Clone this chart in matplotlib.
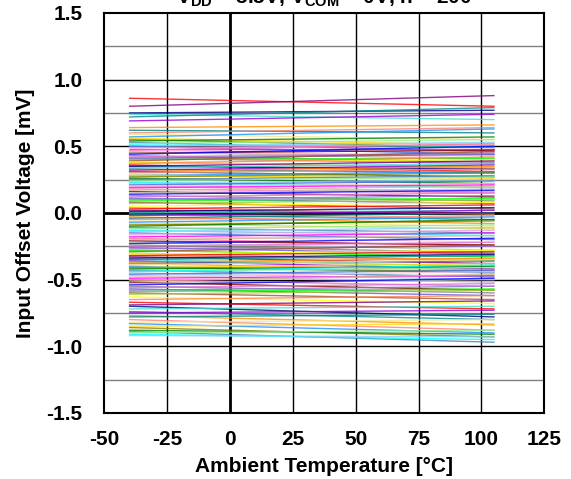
import matplotlib
matplotlib.use("Agg")
import matplotlib.pyplot as plt
import numpy as np

plt.rcParams['font.family'] = ['Liberation Sans', 'DejaVu Sans']
plt.rcParams['font.weight'] = 'bold'
plt.rcParams['axes.unicode_minus'] = False
plt.rcParams['mathtext.fontset'] = 'custom'
plt.rcParams['mathtext.rm'] = 'Liberation Sans:bold'
plt.rcParams['mathtext.it'] = 'Liberation Sans:bold'
plt.rcParams['mathtext.bf'] = 'Liberation Sans:bold'

# temperatures where each unit was measured
temps = [-40, 105]

# offset voltage per unit [mV] at -40 C and at 105 C
vos_top_lo = [0.86, 0.80, 0.75, 0.74, 0.72, 0.69, 0.64, 0.62, 0.60, 0.59, 0.57, 0.56]
vos_top_hi = [0.80, 0.88, 0.77, 0.70, 0.79, 0.74, 0.66, 0.60, 0.64, 0.55, 0.63, 0.51]

vos_upper_lo = [0.55, 0.54, 0.53, 0.52, 0.51, 0.50, 0.50, 0.49, 0.48, 0.48,
                0.47, 0.46, 0.45, 0.45, 0.44, 0.43, 0.42, 0.41, 0.41, 0.40,
                0.39, 0.38, 0.38, 0.37, 0.36, 0.35, 0.35, 0.34, 0.33, 0.32,
                0.31, 0.31, 0.30, 0.29, 0.28, 0.28, 0.27, 0.26, 0.25, 0.24,
                0.23, 0.22, 0.21, 0.20, 0.20, 0.19, 0.18, 0.17, 0.16, 0.15,
                0.14, 0.13, 0.12, 0.11, 0.10]
vos_upper_hi = [0.49, 0.57, 0.46, 0.55, 0.50, 0.53, 0.44, 0.51, 0.41, 0.48,
                0.52, 0.40, 0.47, 0.43, 0.50, 0.38, 0.45, 0.44, 0.37, 0.41,
                0.46, 0.34, 0.40, 0.42, 0.31, 0.39, 0.33, 0.37, 0.30, 0.36,
                0.35, 0.27, 0.33, 0.24, 0.31, 0.26, 0.30, 0.22, 0.28, 0.27,
                0.19, 0.25, 0.24, 0.16, 0.22, 0.21, 0.15, 0.20, 0.12, 0.18,
                0.17, 0.09, 0.15, 0.07, 0.13]

vos_mid_lo = [0.09, 0.08, 0.07, 0.05, 0.04, 0.03, 0.02, 0.01, 0.00, -0.01,
              -0.02, -0.03, -0.04, -0.05, -0.06, -0.07, -0.08, -0.09, -0.10, -0.11,
              -0.12, -0.13, -0.14]
vos_mid_hi = [0.11, 0.03, 0.10, 0.08, -0.01, 0.06, 0.00, 0.04, 0.02, -0.05,
              0.02, -0.08, 0.00, -0.02, -0.10, -0.03, -0.12, -0.06, -0.05, -0.15,
              -0.09, -0.17, -0.11]

vos_lower_lo = [-0.15, -0.16, -0.17, -0.18, -0.19, -0.20, -0.21, -0.22, -0.23, -0.24,
                -0.25, -0.26, -0.27, -0.28, -0.29, -0.30, -0.31, -0.32, -0.32, -0.33,
                -0.34, -0.35, -0.35, -0.36, -0.37, -0.38, -0.38, -0.39, -0.40, -0.41,
                -0.41, -0.42, -0.43, -0.44, -0.44, -0.45, -0.46, -0.47, -0.48, -0.49,
                -0.50, -0.51, -0.52, -0.53, -0.54, -0.55, -0.56, -0.57, -0.58, -0.59,
                -0.60, -0.61]
vos_lower_hi = [-0.20, -0.13, -0.22, -0.15, -0.25, -0.17, -0.24, -0.28, -0.19, -0.30,
                -0.22, -0.31, -0.25, -0.33, -0.24, -0.36, -0.28, -0.35, -0.29, -0.38,
                -0.31, -0.40, -0.32, -0.42, -0.34, -0.36, -0.43, -0.35, -0.45, -0.38,
                -0.44, -0.40, -0.48, -0.41, -0.39, -0.50, -0.43, -0.52, -0.44, -0.47,
                -0.55, -0.46, -0.58, -0.50, -0.49, -0.60, -0.53, -0.62, -0.55, -0.57,
                -0.65, -0.58]

vos_bot_lo = [-0.63, -0.65, -0.67, -0.69, -0.70, -0.72, -0.74, -0.75, -0.77, -0.78,
              -0.80, -0.82, -0.83, -0.85, -0.86, -0.88, -0.89, -0.90, -0.91, -0.92]
vos_bot_hi = [-0.68, -0.62, -0.72, -0.66, -0.78, -0.70, -0.80, -0.73, -0.84, -0.76,
              -0.88, -0.80, -0.90, -0.83, -0.93, -0.91, -0.97, -0.88, -0.95, -0.93]

xticks = [-50, -25, 0, 25, 50, 75, 100, 125]
yticks = [-1.5, -1.0, -0.5, 0.0, 0.5, 1.0, 1.5]

title = "V$_{DD}$ = 5.5V, V$_{COM}$ = 0V, n = 200"

colors = ['red', 'lime', 'blue', 'magenta', 'cyan', 'gold', 'darkorange', 'purple',
          'sienna', 'gray', 'hotpink', 'lightskyblue', 'olive', 'teal', 'navy',
          'yellowgreen', 'orchid', 'tan', 'royalblue', 'green', 'salmon',
          'turquoise', 'yellow', 'slateblue', 'maroon', 'plum', 'steelblue',
          'khaki', 'darkcyan', 'coral', 'mediumpurple', 'silver', 'pink',
          'lightgreen', 'dodgerblue', 'darkviolet']

lo = vos_top_lo + vos_upper_lo + vos_mid_lo + vos_lower_lo + vos_bot_lo
hi = vos_top_hi + vos_upper_hi + vos_mid_hi + vos_lower_hi + vos_bot_hi

fig = plt.figure(figsize=(5.71, 4.79), dpi=100)
ax = fig.add_axes([0.183, 0.138, 0.770, 0.835])

# grid: gray at quarter steps, black at half steps
for v in [-1.25, -0.75, -0.25, 0.25, 0.75, 1.25]:
    ax.axhline(v, color='#808080', lw=1.0, zorder=1)
for v in [-1.0, -0.5, 0.5, 1.0]:
    ax.axhline(v, color='black', lw=1.0, zorder=1)
ax.axhline(0, color='black', lw=2.0, zorder=1)
for t in xticks[1:-1]:
    ax.axvline(t, color='black', lw=2.0 if t == 0 else 1.0, zorder=1)

n = len(colors)
for i, (a, b) in enumerate(zip(lo, hi)):
    ax.plot(temps, [a, b], color=colors[(i * 7) % n], lw=1.0, alpha=0.8, zorder=2)

ax.set_xlim(-50, 125)
ax.set_ylim(-1.5, 1.5)
ax.set_xticks(xticks)
ax.set_yticks(yticks)
ax.set_yticklabels(["%.1f" % v for v in yticks])
ax.tick_params(length=0, labelsize=15)
ax.tick_params(axis='y', pad=16)
ax.tick_params(axis='x', pad=12)
for s in ax.spines.values():
    s.set_linewidth(1.5)

ax.set_xlabel("Ambient Temperature [°C]", fontsize=15, fontweight='bold', labelpad=6)
ax.set_ylabel("Input Offset Voltage [mV]", fontsize=15, fontweight='bold', labelpad=8)

fig.text(0.568, 1 - 4 / 479, title, ha='center', va='baseline', fontsize=15, fontweight='bold')

fig.savefig("out.png", dpi=100)
